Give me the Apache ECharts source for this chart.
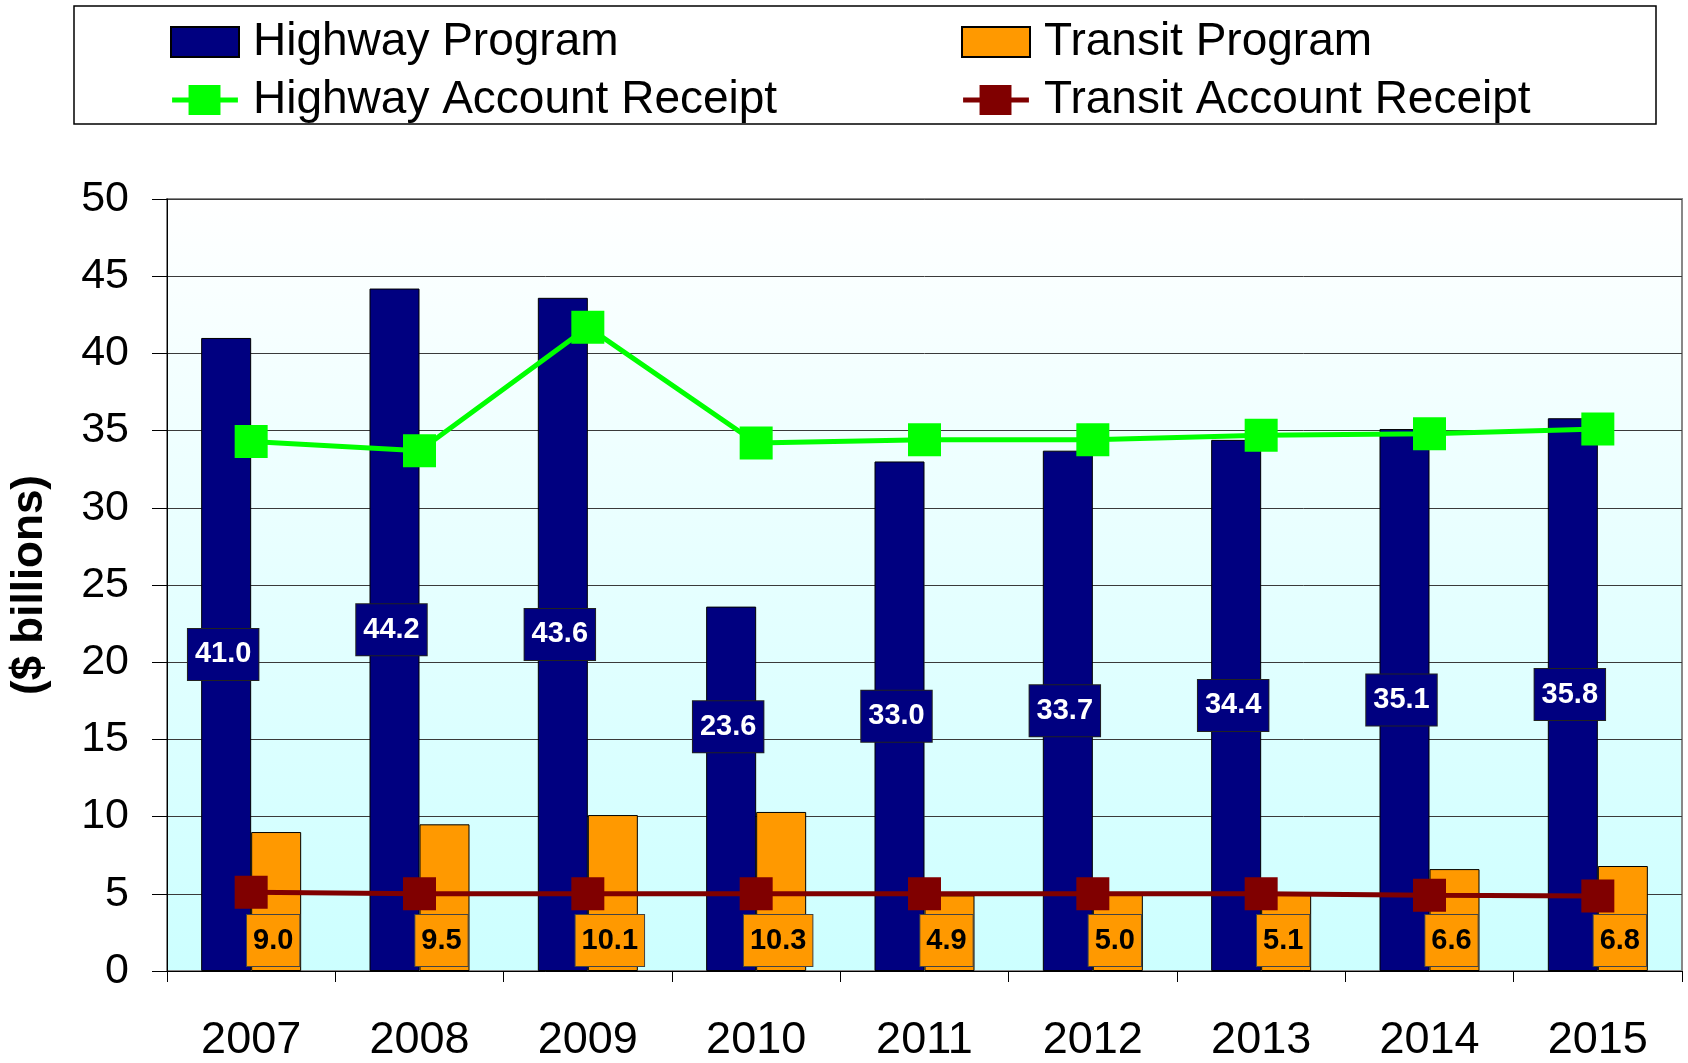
<!DOCTYPE html>
<html>
<head>
<meta charset="utf-8">
<script src="https://cdn.jsdelivr.net/npm/echarts@6/dist/echarts.min.js"></script>
<style>
  html, body { margin: 0; padding: 0; background: #fff; }
  #chart { width: 1688px; height: 1063px; }
</style>
</head>
<body>
<div id="chart"></div>
<script>
// data
var years = ["2007", "2008", "2009", "2010", "2011", "2012", "2013", "2014", "2015"];
var highwayProgram = [41.0, 44.2, 43.6, 23.6, 33.0, 33.7, 34.4, 35.1, 35.8];
var transitProgram = [9.0, 9.5, 10.1, 10.3, 4.9, 5.0, 5.1, 6.6, 6.8];
var highwayReceipt = [34.3, 33.7, 41.7, 34.2, 34.4, 34.4, 34.7, 34.8, 35.1];
var transitReceipt = [5.1, 5.0, 5.0, 5.0, 5.0, 5.0, 5.0, 4.9, 4.85];
var yTicks = { min: 0, max: 50, step: 5 };

var FONT = "Liberation Sans, Arial, sans-serif";

// line+square legend icon, like the original
var lineIcon = "path://M0,13 L17,13 L17,0 L50,0 L50,13 L68,13 L68,18 L50,18 L50,31 L17,31 L17,18 L0,18 Z";

var chart = echarts.init(document.getElementById("chart"));

var legendText = {
  fontFamily: FONT,
  fontSize: 46,
  color: "#000",
  lineHeight: 44,
  padding: [0, 0, 0, 9]
};

// the 2010 highway label sits higher than mid-bar in the original
var highwayData = highwayProgram.map(function (v, i) {
  if (i === 3) return { value: v, label: { offset: [-3, -62] } };
  return v;
});

chart.setOption({
  animation: false,
  graphic: [
    {
      type: "rect",
      z: -1,
      shape: { x: 74, y: 6, width: 1582, height: 118 },
      style: { fill: "#fff", stroke: "#000", lineWidth: 1.5 }
    }
  ],
  legend: [
    {
      data: [
        { name: "Highway Program", icon: "rect" },
        { name: "Highway Account Receipt", icon: lineIcon }
      ],
      orient: "vertical",
      left: 170,
      top: 19,
      padding: 0,
      itemGap: 12,
      itemWidth: 68,
      itemHeight: 30,
      textStyle: legendText
    },
    {
      data: [
        { name: "Transit Program", icon: "rect" },
        { name: "Transit Account Receipt", icon: lineIcon }
      ],
      orient: "vertical",
      left: 961,
      top: 19,
      padding: 0,
      itemGap: 12,
      itemWidth: 68,
      itemHeight: 30,
      textStyle: legendText
    }
  ],
  grid: {
    left: 167,
    right: 6,
    top: 199,
    bottom: 89,
    show: true,
    borderColor: "#888",
    borderWidth: 2,
    backgroundColor: new echarts.graphic.LinearGradient(0, 0, 0, 1, [
      { offset: 0, color: "#ffffff" },
      { offset: 1, color: "#ccffff" }
    ])
  },
  xAxis: {
    type: "category",
    data: years,
    axisLine: { lineStyle: { color: "#000", width: 1 } },
    axisTick: { show: true, length: 11, lineStyle: { color: "#000" } },
    axisLabel: {
      fontFamily: FONT,
      fontSize: 45,
      color: "#000",
      margin: 47
    }
  },
  yAxis: {
    type: "value",
    min: yTicks.min,
    max: yTicks.max,
    interval: yTicks.step,
    name: "($ billions)",
    nameLocation: "middle",
    nameGap: 115,
    nameRotate: 90,
    nameTextStyle: {
      fontFamily: FONT,
      fontSize: 44,
      fontWeight: "bold",
      color: "#000"
    },
    axisLine: { show: true, lineStyle: { color: "#000", width: 1 } },
    axisTick: { show: true, length: 15, lineStyle: { color: "#000" } },
    splitLine: { lineStyle: { color: "#3a3a3a", width: 1 } },
    axisLabel: {
      fontFamily: FONT,
      fontSize: 43,
      color: "#000",
      margin: 38
    }
  },
  series: [
    {
      name: "Highway Program",
      type: "bar",
      data: highwayData,
      barWidth: 50,
      barGap: "0%",
      itemStyle: { color: "#000080", borderColor: "#000", borderWidth: 1 },
      label: {
        show: true,
        position: "inside",
        offset: [-3, 0],
        formatter: function (p) { return p.value.toFixed(1); },
        fontFamily: FONT,
        fontSize: 29,
        fontWeight: "bold",
        color: "#fff",
        backgroundColor: "#000080",
        borderColor: "#222",
        borderWidth: 1,
        padding: [11, 7]
      }
    },
    {
      name: "Transit Program",
      type: "bar",
      data: transitProgram,
      barWidth: 50,
      itemStyle: { color: "#ff9900", borderColor: "#000", borderWidth: 1 },
      label: {
        show: true,
        position: "insideBottom",
        distance: 5,
        offset: [-3, 0],
        formatter: function (p) { return p.value.toFixed(1); },
        fontFamily: FONT,
        fontSize: 29,
        fontWeight: "bold",
        color: "#000",
        backgroundColor: "#ff9900",
        borderColor: "#444",
        borderWidth: 1,
        padding: [11, 6]
      }
    },
    {
      name: "Highway Account Receipt",
      type: "line",
      data: highwayReceipt,
      z: 3,
      symbol: "rect",
      symbolSize: 33,
      lineStyle: { color: "#00ff00", width: 5 },
      itemStyle: { color: "#00ff00" }
    },
    {
      name: "Transit Account Receipt",
      type: "line",
      data: transitReceipt,
      z: 3,
      symbol: "rect",
      symbolSize: 33,
      lineStyle: { color: "#800000", width: 5 },
      itemStyle: { color: "#800000" }
    }
  ]
});
</script>
</body>
</html>
